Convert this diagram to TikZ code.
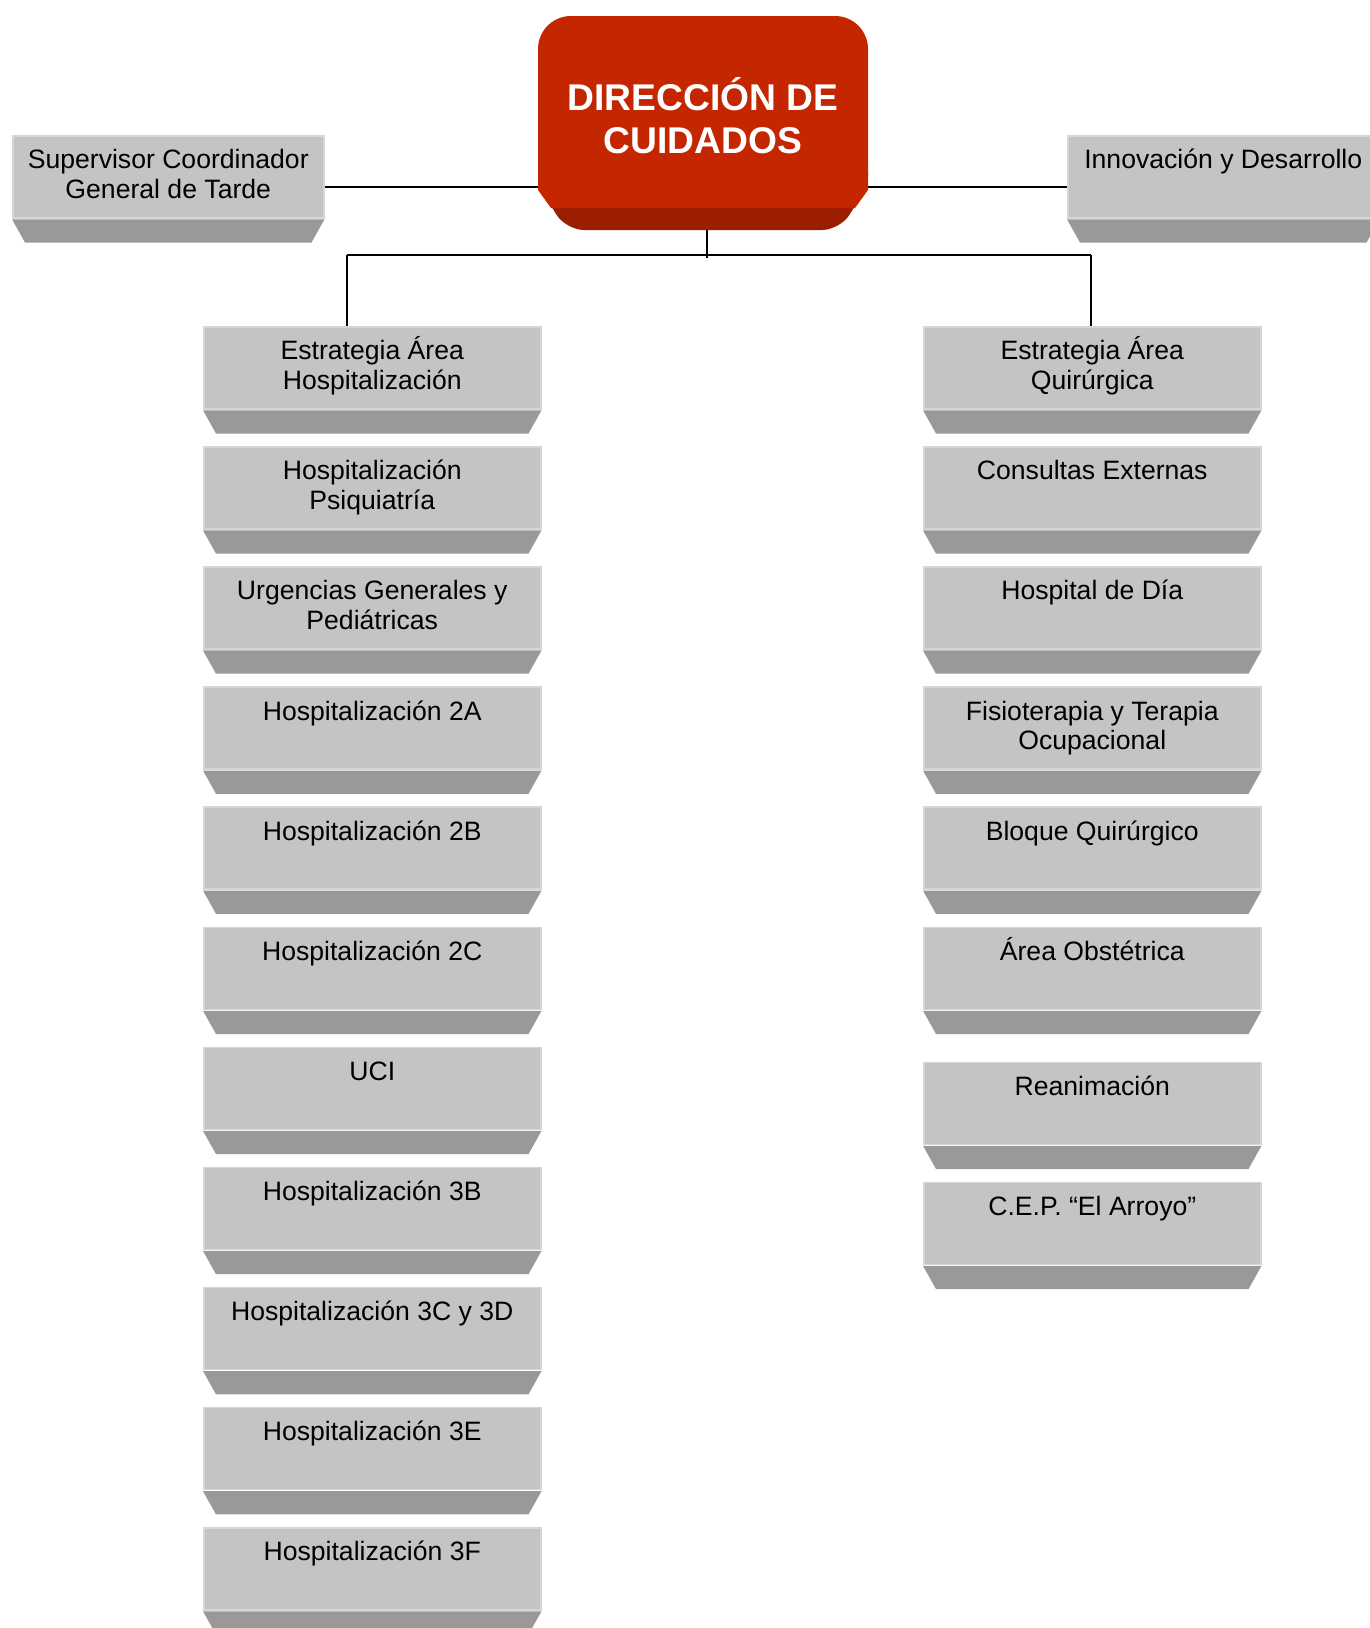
\documentclass[tikz,border=0pt]{standalone}
\usepackage{fontspec}
\setmainfont{Liberation Sans}
\definecolor{face}{RGB}{196,196,196}
\definecolor{faceedge}{RGB}{214,214,214}
\definecolor{bevel}{RGB}{153,153,153}
\definecolor{redface}{RGB}{196,38,0}
\definecolor{redbevel}{RGB}{156,30,0}
\tikzset{
  grayface/.style={rectangle, fill=face, draw=faceedge, line width=1.5pt, inner sep=0pt, anchor=north west},
  conn/.style={draw=black, line width=2pt},
}
% \orgbox{name}{x}{top}{width}{text}
\newcommand\orgbox[5]{%
  \node[grayface] (#1) at (#2,#3) {\parbox[c][82pt][t]{#4pt}{\centering\fontsize{26.6}{29.5}\selectfont\rule{0pt}{33pt}#5\par}};
  \fill[bevel] ([yshift=-0.75pt]#1.south west) -- ([yshift=-0.75pt]#1.south east) -- ([xshift=-13pt,yshift=-24pt]#1.south east) -- ([xshift=13pt,yshift=-24pt]#1.south west) -- cycle;
}
\begin{document}
\begin{tikzpicture}[x=1pt,y=-1pt]
\useasboundingbox (0,0) rectangle (1370,1628);
\fill[white] (0,0) rectangle (1370,1628);

% central red box
\fill[redbevel, rounded corners=18pt] (538,185) -- (868,185) -- (840,230) -- (566,230) -- cycle;
\node[rectangle, rounded corners=33pt, fill=redface, minimum width=330pt, minimum height=192pt, inner sep=0pt, text=white, align=center, font=\fontsize{37.2}{43.5}\selectfont\bfseries] (dir) at (703,112) {\parbox{325pt}{\vspace*{7pt}\centering DIRECCIÓN DE\\CUIDADOS}};
\fill[redface] (538,172) -- (868,172) -- (868,190) -- (855,208) -- (551,208) -- (538,190) -- cycle;

% side boxes
\orgbox{sup}{12}{135}{311}{Supervisor Coordinador\\General de Tarde}
\orgbox{inn}{1067}{135}{311}{Innovación y Desarrollo}

% left column
\orgbox{l0}{203}{326}{337}{Estrategia Área\\Hospitalización}
\orgbox{l1}{203}{446.1}{337}{Hospitalización\\Psiquiatría}
\orgbox{l2}{203}{566.2}{337}{Urgencias Generales y\\Pediátricas}
\orgbox{l3}{203}{686.3}{337}{Hospitalización 2A}
\orgbox{l4}{203}{806.4}{337}{Hospitalización 2B}
\orgbox{l5}{203}{926.5}{337}{Hospitalización 2C}
\orgbox{l6}{203}{1046.6}{337}{UCI}
\orgbox{l7}{203}{1166.7}{337}{Hospitalización 3B}
\orgbox{l8}{203}{1286.8}{337}{Hospitalización 3C y 3D}
\orgbox{l9}{203}{1406.9}{337}{Hospitalización 3E}
\orgbox{l10}{203}{1527}{337}{Hospitalización 3F}

% right column
\orgbox{r0}{923}{326}{337}{Estrategia Área\\Quirúrgica}
\orgbox{r1}{923}{446.1}{337}{Consultas Externas}
\orgbox{r2}{923}{566.2}{337}{Hospital de Día}
\orgbox{r3}{923}{686.3}{337}{Fisioterapia y Terapia\\Ocupacional}
\orgbox{r4}{923}{806.4}{337}{Bloque Quirúrgico}
\orgbox{r5}{923}{926.5}{337}{Área Obstétrica}
\orgbox{r6}{923}{1061.5}{337}{Reanimación}
\orgbox{r7}{923}{1181.6}{337}{C.E.P. “El Arroyo”}

% connectors
\coordinate (hub) at (707,255);
\coordinate (hl) at (347,255);
\coordinate (hr) at (1091,255);
\draw[conn] (sup.east |- 0,187) -- (dir.west |- 0,187);
\draw[conn] (dir.east |- 0,187) -- (inn.west |- 0,187);
\draw[conn] (707,230) -- ([yshift=-3pt]hub);
\draw[conn] (hl) -- (hr);
\draw[conn] (hl) -- (hl |- l0.north);
\draw[conn] (hr) -- (hr |- r0.north);
\end{tikzpicture}
\end{document}
